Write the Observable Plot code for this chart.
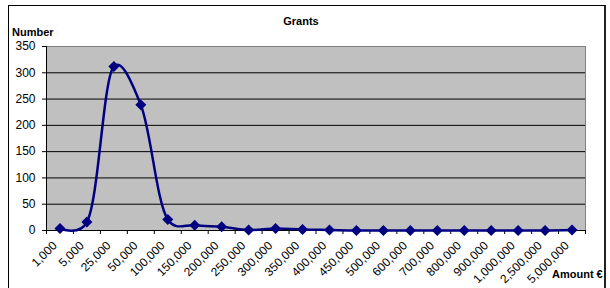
<!DOCTYPE html>
<html><head><meta charset="utf-8">
<script src="https://cdn.jsdelivr.net/npm/d3@7"></script>
<script src="https://cdn.jsdelivr.net/npm/@observablehq/plot@0.6"></script>
<style>
body{margin:0;background:#fff;font-family:"Liberation Sans",Arial,sans-serif;}
#wrap{position:relative;width:610px;height:288px;overflow:hidden;}
#border{position:absolute;left:8px;top:5px;width:595px;height:300px;border:1px solid #000;border-right:2px solid #222;}
#chart{position:absolute;left:0;top:0;}
.lbl{position:absolute;font-weight:bold;font-size:11px;line-height:12px;color:#000;white-space:nowrap;}
</style></head><body>
<div id="wrap">
<div id="border"></div>
<div id="chart"></div>
<div class="lbl" style="left:301px;top:15px;transform:translateX(-50%);">Grants</div>
<div class="lbl" style="left:12px;top:26px;">Number</div>
<div class="lbl" style="left:552px;top:268px;">Amount €</div>
</div>
<script>
const amounts = ["1,000","5,000","25,000","50,000","100,000","150,000","200,000","250,000","300,000","350,000","400,000","450,000","500,000","600,000","700,000","800,000","900,000","1,000,000","2,500,000","5,000,000"];
const counts = [4, 16, 312, 239, 21, 10, 7, 1, 4, 2, 1, 0, 0, 0, 0, 0, 0, 0, 0, 1];
const yTicks = [0, 50, 100, 150, 200, 250, 300, 350];

const data = amounts.map((a, i) => ({amount: a, pos: i + 0.5, count: counts[i]}));
const centers = data.map(d => d.pos);
const bounds = d3.range(0, amounts.length + 1);

const chart = Plot.plot({
  width: 610,
  height: 288,
  marginLeft: 46,
  marginRight: 25,
  marginTop: 46,
  marginBottom: 58,
  style: {fontFamily: "'Liberation Sans', Arial, sans-serif", fontSize: "12px", background: "transparent", color: "#000"},
  x: {type: "linear", domain: [0, amounts.length], axis: null, label: null},
  y: {domain: [0, 350], axis: null, label: null},
  marks: [
    Plot.frame({fill: "#c0c0c0", stroke: "#808080"}),
    Plot.gridY(yTicks.filter(t => t > 0 && t < 350), {stroke: "#000", strokeOpacity: 1}),
    Plot.axisY({ticks: yTicks, tickSize: 4, tickPadding: 7, stroke: "#000", fill: "#000", label: null, tickFormat: d => String(d)}),
    Plot.axisX({ticks: bounds, tickSize: 4, tickFormat: () => "", stroke: "#000", label: null}),
    Plot.axisX({ticks: centers, tickSize: 0, tickPadding: 13, dx: -5, tickRotate: -45, fill: "#000", label: null, tickFormat: p => amounts[Math.floor(p)]}),
    Plot.ruleX([0], {stroke: "#000"}),
    Plot.ruleY([0], {stroke: "#000"}),
    Plot.line(data, {x: "pos", y: "count", stroke: "#000080", strokeWidth: 2.5, curve: "catmull-rom", tension: 0.25}),
    Plot.dot(data, {x: "pos", y: "count", symbol: "diamond2", r: 4, fill: "#000080", stroke: "#000080"})
  ]
});
document.getElementById("chart").appendChild(chart);
</script>
</body></html>
